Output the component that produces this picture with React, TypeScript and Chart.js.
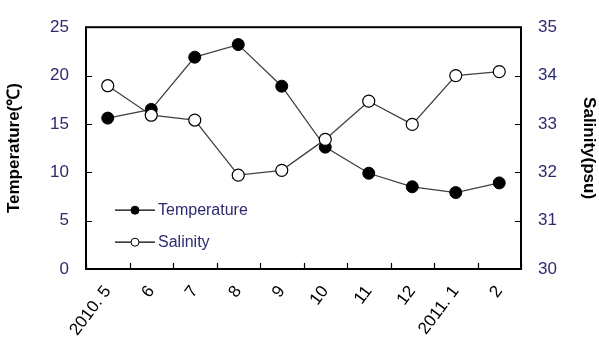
import React, { useEffect, useRef } from 'react';
import { Chart, registerables } from 'chart.js';
Chart.register(...registerables);

const months = ['2010. 5', '6', '7', '8', '9', '10', '11', '12', '2011. 1', '2'];
const temperature = [15.6, 16.5, 21.9, 23.2, 18.9, 12.6, 9.9, 8.5, 7.9, 8.9];
const salinity = [33.79, 33.18, 33.08, 31.94, 32.04, 32.68, 33.47, 32.99, 34.0, 34.08];
const tempInnerTicks = [5, 10, 15, 20];
const salInnerTicks = [31, 32, 33, 34];
const seriesNames = ['Temperature', 'Salinity'];

const FONT = "'Liberation Sans', Arial, sans-serif";
const TEXT = '#2e2a6e';

const boxPlugin = {
  id: 'boxAndLegend',
  afterDraw(chart: any) {
    const { ctx, chartArea } = chart;
    const { left, right, top, bottom } = chartArea;
    const xs = chart.scales.x;
    const yl = chart.scales.yT;
    const yr = chart.scales.yS;
    ctx.save();
    ctx.strokeStyle = '#000';
    ctx.lineWidth = 2;
    ctx.strokeRect(left, top, right - left, bottom - top);
    ctx.lineWidth = 1.2;
    ctx.beginPath();
    for (let i = 0; i <= months.length; i++) {
      const x = Math.round(xs.getPixelForValue(i - 0.5)) + 0.5;
      ctx.moveTo(x, bottom);
      ctx.lineTo(x, bottom - 6);
    }
    tempInnerTicks.forEach((v) => {
      const y = Math.round(yl.getPixelForValue(v)) + 0.5;
      ctx.moveTo(left, y);
      ctx.lineTo(left + 6, y);
    });
    salInnerTicks.forEach((v) => {
      const y = Math.round(yr.getPixelForValue(v)) + 0.5;
      ctx.moveTo(right, y);
      ctx.lineTo(right - 6, y);
    });
    ctx.stroke();

    // legend
    const rows = [
      { y: top + 183, fill: '#000' },
      { y: top + 215, fill: '#fff' },
    ];
    rows.forEach((r, i) => {
      const x0 = left + 29;
      const x1 = left + 69;
      ctx.strokeStyle = '#000';
      ctx.lineWidth = 1.3;
      ctx.beginPath();
      ctx.moveTo(x0, r.y);
      ctx.lineTo(x1, r.y);
      ctx.stroke();
      ctx.beginPath();
      ctx.arc((x0 + x1) / 2, r.y, 4, 0, Math.PI * 2);
      ctx.fillStyle = r.fill;
      ctx.fill();
      ctx.lineWidth = 1;
      ctx.stroke();
      ctx.fillStyle = TEXT;
      ctx.font = `16px ${FONT}`;
      ctx.textBaseline = 'middle';
      ctx.textAlign = 'left';
      ctx.fillText(seriesNames[i], x1 + 3, r.y);
    });
    ctx.restore();
  },
};

export default function App() {
  const ref = useRef<HTMLCanvasElement>(null);
  useEffect(() => {
    if (!ref.current) return;
    const chart = new Chart(ref.current, {
      type: 'line',
      data: {
        labels: months,
        datasets: [
          {
            label: seriesNames[0],
            data: temperature,
            yAxisID: 'yT',
            borderColor: '#404040',
            borderWidth: 1.3,
            pointRadius: 6,
            pointBorderWidth: 1,
            pointBackgroundColor: '#000',
            pointBorderColor: '#000',
            order: 1,
          },
          {
            label: seriesNames[1],
            data: salinity,
            yAxisID: 'yS',
            borderColor: '#404040',
            borderWidth: 1.3,
            pointRadius: 6,
            pointBorderWidth: 1.2,
            pointBackgroundColor: '#fff',
            pointBorderColor: '#000',
            order: 0,
          },
        ],
      },
      options: {
        animation: false,
        responsive: true,
        maintainAspectRatio: false,
        layout: { padding: { top: 16, left: 0, right: 0, bottom: 0 } },
        plugins: { legend: { display: false }, tooltip: { enabled: false } },
        scales: {
          x: {
            offset: true,
            grid: { display: false, drawTicks: false, offset: true },
            border: { display: false },
            ticks: {
              autoSkip: false,
              maxRotation: 53,
              minRotation: 53,
              padding: 13,
              color: '#000',
              font: { size: 17, family: FONT },
            },
            afterFit(s: any) { s.height = 80; },
          },
          yT: {
            position: 'left',
            min: 0,
            max: 25,
            ticks: { stepSize: 5, padding: 17, color: TEXT, font: { size: 17, family: FONT } },
            grid: { display: false, drawTicks: false },
            border: { display: false },
            title: {
              display: true,
              text: 'Temperature(℃)',
              color: '#000',
              font: { size: 17, weight: 'bold', family: FONT },
              padding: { top: 4, bottom: 0 },
            },
            afterFit(s: any) { s.width = 86; },
          },
          yS: {
            position: 'right',
            min: 30,
            max: 35,
            ticks: { stepSize: 1, padding: 17, color: TEXT, font: { size: 17, family: FONT } },
            grid: { display: false, drawTicks: false },
            border: { display: false },
            title: {
              display: true,
              text: 'Salinity(psu)',
              color: '#000',
              font: { size: 17, weight: 'bold', family: FONT },
              padding: { top: 0, bottom: 0 },
            },
            afterFit(s: any) { s.width = 78; },
          },
        },
      },
      plugins: [boxPlugin],
    } as any);
    return () => chart.destroy();
  }, []);
  return (
    <div style={{ position: 'absolute', left: 0, top: 0, width: 599, height: 349, background: '#fff' }}>
      <canvas ref={ref} />
    </div>
  );
}
